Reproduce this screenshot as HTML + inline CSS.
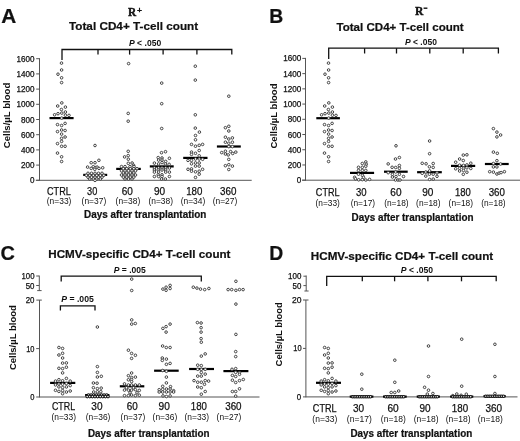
<!DOCTYPE html>
<html><head><meta charset="utf-8"><title>Figure</title>
<style>
html,body{margin:0;padding:0;background:#fff;}
body{width:520px;height:441px;overflow:hidden;font-family:"Liberation Sans",sans-serif;}
svg{display:block;will-change:transform;}
</style></head>
<body>
<svg width="520" height="441" viewBox="0 0 520 441">
<rect width="520" height="441" fill="#fff"/>
<text x="1.2" y="23.1" font-family="Liberation Sans" font-size="20" font-weight="bold" text-anchor="start" fill="#111" textLength="15" lengthAdjust="spacingAndGlyphs" stroke="#111" stroke-width="0.22">A</text>
<text x="269.2" y="22.7" font-family="Liberation Sans" font-size="20" font-weight="bold" text-anchor="start" fill="#111" textLength="14" lengthAdjust="spacingAndGlyphs" stroke="#111" stroke-width="0.22">B</text>
<text x="0.6" y="259.9" font-family="Liberation Sans" font-size="20" font-weight="bold" text-anchor="start" fill="#111" textLength="14.4" lengthAdjust="spacingAndGlyphs" stroke="#111" stroke-width="0.22">C</text>
<text x="269.2" y="259.7" font-family="Liberation Sans" font-size="20" font-weight="bold" text-anchor="start" fill="#111" textLength="14" lengthAdjust="spacingAndGlyphs" stroke="#111" stroke-width="0.22">D</text>
<text x="128.1" y="16.4" font-family="Liberation Serif" font-size="13.0" font-weight="bold" text-anchor="start" fill="#111" textLength="8.2" lengthAdjust="spacingAndGlyphs" stroke="#111" stroke-width="0.45">R</text>
<text x="136.9" y="13.2" font-family="Liberation Serif" font-size="8.4" font-weight="bold" text-anchor="start" fill="#111" textLength="5" lengthAdjust="spacingAndGlyphs" stroke="#111" stroke-width="0.5">+</text>
<text x="415.0" y="15.4" font-family="Liberation Serif" font-size="13.4" font-weight="bold" text-anchor="start" fill="#111" textLength="8.4" lengthAdjust="spacingAndGlyphs" stroke="#111" stroke-width="0.45">R</text>
<line x1="423.6" y1="8.2" x2="427.4" y2="8.2" stroke="#111" stroke-width="1.4" stroke-linecap="butt"/>
<text x="69.0" y="30.3" font-family="Liberation Sans" font-size="11.8" font-weight="bold" text-anchor="start" fill="#111" textLength="129.2" lengthAdjust="spacingAndGlyphs" stroke="#111" stroke-width="0.22">Total CD4+ T-cell count</text>
<text x="336.5" y="31.3" font-family="Liberation Sans" font-size="11.8" font-weight="bold" text-anchor="start" fill="#111" textLength="127.2" lengthAdjust="spacingAndGlyphs" stroke="#111" stroke-width="0.22">Total CD4+ T-cell count</text>
<text x="48.3" y="258.2" font-family="Liberation Sans" font-size="11.8" font-weight="bold" text-anchor="start" fill="#111" textLength="182.2" lengthAdjust="spacingAndGlyphs" stroke="#111" stroke-width="0.22">HCMV-specific CD4+ T-cell count</text>
<text x="310.8" y="260.4" font-family="Liberation Sans" font-size="11.8" font-weight="bold" text-anchor="start" fill="#111" textLength="182.4" lengthAdjust="spacingAndGlyphs" stroke="#111" stroke-width="0.22">HCMV-specific CD4+ T-cell count</text>
<text x="129.0" y="46.4" font-family="Liberation Sans" font-size="8.6" font-weight="bold" text-anchor="start" fill="#111" textLength="32.2" lengthAdjust="spacingAndGlyphs"><tspan font-style="italic">P</tspan> &lt; .050</text>
<text x="405.0" y="45.2" font-family="Liberation Sans" font-size="8.6" font-weight="bold" text-anchor="start" fill="#111" textLength="31.9" lengthAdjust="spacingAndGlyphs"><tspan font-style="italic">P</tspan> &lt; .050</text>
<text x="113.8" y="272.9" font-family="Liberation Sans" font-size="8.6" font-weight="bold" text-anchor="start" fill="#111" textLength="32" lengthAdjust="spacingAndGlyphs"><tspan font-style="italic">P</tspan> = .005</text>
<text x="61.3" y="301.5" font-family="Liberation Sans" font-size="8.6" font-weight="bold" text-anchor="start" fill="#111" textLength="32.5" lengthAdjust="spacingAndGlyphs"><tspan font-style="italic">P</tspan> = .005</text>
<text x="400.8" y="272.5" font-family="Liberation Sans" font-size="8.6" font-weight="bold" text-anchor="start" fill="#111" textLength="32.3" lengthAdjust="spacingAndGlyphs"><tspan font-style="italic">P</tspan> &lt; .050</text>
<polyline points="62,60 62,49.5 231.8,49.5 231.8,54.6" fill="none" stroke="#111" stroke-width="1.3" stroke-linejoin="miter"/>
<line x1="98" y1="49.5" x2="98" y2="54.6" stroke="#111" stroke-width="1.3" stroke-linecap="butt"/>
<line x1="129.6" y1="49.5" x2="129.6" y2="54.6" stroke="#111" stroke-width="1.3" stroke-linecap="butt"/>
<line x1="163.1" y1="49.5" x2="163.1" y2="54.6" stroke="#111" stroke-width="1.3" stroke-linecap="butt"/>
<line x1="196.9" y1="49.5" x2="196.9" y2="54.6" stroke="#111" stroke-width="1.3" stroke-linecap="butt"/>
<polyline points="328.7,59 328.7,48.2 498.4,48.2 498.4,53.5" fill="none" stroke="#111" stroke-width="1.3" stroke-linejoin="miter"/>
<line x1="364.6" y1="48.2" x2="364.6" y2="53.5" stroke="#111" stroke-width="1.3" stroke-linecap="butt"/>
<line x1="396.5" y1="48.2" x2="396.5" y2="53.5" stroke="#111" stroke-width="1.3" stroke-linecap="butt"/>
<line x1="429.8" y1="48.2" x2="429.8" y2="53.5" stroke="#111" stroke-width="1.3" stroke-linecap="butt"/>
<line x1="463.2" y1="48.2" x2="463.2" y2="53.5" stroke="#111" stroke-width="1.3" stroke-linecap="butt"/>
<polyline points="61.2,281.4 61.2,276.2 201.3,276.2 201.3,281.4" fill="none" stroke="#111" stroke-width="1.3" stroke-linejoin="miter"/>
<polyline points="60.4,310.6 60.4,305.8 95,305.8 95,310.6" fill="none" stroke="#111" stroke-width="1.3" stroke-linejoin="miter"/>
<polyline points="326.7,286 326.7,276.3 496.2,276.3 496.2,281.3" fill="none" stroke="#111" stroke-width="1.3" stroke-linejoin="miter"/>
<line x1="362.3" y1="276.3" x2="362.3" y2="281.3" stroke="#111" stroke-width="1.3" stroke-linecap="butt"/>
<line x1="394.6" y1="276.3" x2="394.6" y2="281.3" stroke="#111" stroke-width="1.3" stroke-linecap="butt"/>
<line x1="427.9" y1="276.3" x2="427.9" y2="281.3" stroke="#111" stroke-width="1.3" stroke-linecap="butt"/>
<line x1="461.5" y1="276.3" x2="461.5" y2="281.3" stroke="#111" stroke-width="1.3" stroke-linecap="butt"/>
<text transform="translate(9.6,115.5) rotate(-90)" x="0" y="0" font-family="Liberation Sans" font-size="9.6" font-weight="bold" text-anchor="middle" fill="#111" textLength="65.5" lengthAdjust="spacingAndGlyphs">Cells/µL blood</text>
<text transform="translate(276.6,116.0) rotate(-90)" x="0" y="0" font-family="Liberation Sans" font-size="9.6" font-weight="bold" text-anchor="middle" fill="#111" textLength="65.0" lengthAdjust="spacingAndGlyphs">Cells/µL blood</text>
<text transform="translate(16.1,337.6) rotate(-90)" x="0" y="0" font-family="Liberation Sans" font-size="9.6" font-weight="bold" text-anchor="middle" fill="#111" textLength="65.0" lengthAdjust="spacingAndGlyphs">Cells/µL blood</text>
<text transform="translate(282.4,334.3) rotate(-90)" x="0" y="0" font-family="Liberation Sans" font-size="9.6" font-weight="bold" text-anchor="middle" fill="#111" textLength="64.2" lengthAdjust="spacingAndGlyphs">Cells/µL blood</text>
<line x1="39.5" y1="58.2" x2="39.5" y2="180.8" stroke="#555" stroke-width="1.0" stroke-linecap="butt"/>
<line x1="35.8" y1="180.3" x2="251.7" y2="180.3" stroke="#555" stroke-width="1.0" stroke-linecap="butt"/>
<line x1="36.2" y1="58.7" x2="39.5" y2="58.7" stroke="#555" stroke-width="1.0" stroke-linecap="butt"/>
<text x="34.4" y="61.7" font-family="Liberation Sans" font-size="8.4" text-anchor="end" fill="#111" textLength="18.0" lengthAdjust="spacingAndGlyphs" stroke="#111" stroke-width="0.25">1600</text>
<line x1="36.2" y1="73.9" x2="39.5" y2="73.9" stroke="#555" stroke-width="1.0" stroke-linecap="butt"/>
<text x="34.4" y="76.9" font-family="Liberation Sans" font-size="8.4" text-anchor="end" fill="#111" textLength="18.0" lengthAdjust="spacingAndGlyphs" stroke="#111" stroke-width="0.25">1400</text>
<line x1="36.2" y1="89.10000000000001" x2="39.5" y2="89.10000000000001" stroke="#555" stroke-width="1.0" stroke-linecap="butt"/>
<text x="34.4" y="92.10000000000001" font-family="Liberation Sans" font-size="8.4" text-anchor="end" fill="#111" textLength="18.0" lengthAdjust="spacingAndGlyphs" stroke="#111" stroke-width="0.25">1200</text>
<line x1="36.2" y1="104.30000000000001" x2="39.5" y2="104.30000000000001" stroke="#555" stroke-width="1.0" stroke-linecap="butt"/>
<text x="34.4" y="107.30000000000001" font-family="Liberation Sans" font-size="8.4" text-anchor="end" fill="#111" textLength="18.0" lengthAdjust="spacingAndGlyphs" stroke="#111" stroke-width="0.25">1000</text>
<line x1="36.2" y1="119.5" x2="39.5" y2="119.5" stroke="#555" stroke-width="1.0" stroke-linecap="butt"/>
<text x="34.4" y="122.5" font-family="Liberation Sans" font-size="8.4" text-anchor="end" fill="#111" textLength="13.5" lengthAdjust="spacingAndGlyphs" stroke="#111" stroke-width="0.25">800</text>
<line x1="36.2" y1="134.7" x2="39.5" y2="134.7" stroke="#555" stroke-width="1.0" stroke-linecap="butt"/>
<text x="34.4" y="137.7" font-family="Liberation Sans" font-size="8.4" text-anchor="end" fill="#111" textLength="13.5" lengthAdjust="spacingAndGlyphs" stroke="#111" stroke-width="0.25">600</text>
<line x1="36.2" y1="149.9" x2="39.5" y2="149.9" stroke="#555" stroke-width="1.0" stroke-linecap="butt"/>
<text x="34.4" y="152.9" font-family="Liberation Sans" font-size="8.4" text-anchor="end" fill="#111" textLength="13.5" lengthAdjust="spacingAndGlyphs" stroke="#111" stroke-width="0.25">400</text>
<line x1="36.2" y1="165.10000000000002" x2="39.5" y2="165.10000000000002" stroke="#555" stroke-width="1.0" stroke-linecap="butt"/>
<text x="34.4" y="168.10000000000002" font-family="Liberation Sans" font-size="8.4" text-anchor="end" fill="#111" textLength="13.5" lengthAdjust="spacingAndGlyphs" stroke="#111" stroke-width="0.25">200</text>
<line x1="36.2" y1="180.3" x2="39.5" y2="180.3" stroke="#555" stroke-width="1.0" stroke-linecap="butt"/>
<text x="34.4" y="183.3" font-family="Liberation Sans" font-size="8.4" text-anchor="end" fill="#111" textLength="4.5" lengthAdjust="spacingAndGlyphs" stroke="#111" stroke-width="0.25">0</text>
<line x1="305.5" y1="57.9" x2="305.5" y2="180.7" stroke="#555" stroke-width="1.0" stroke-linecap="butt"/>
<line x1="302" y1="180.2" x2="520" y2="180.2" stroke="#555" stroke-width="1.0" stroke-linecap="butt"/>
<line x1="302.3" y1="58.4" x2="305.5" y2="58.4" stroke="#555" stroke-width="1.0" stroke-linecap="butt"/>
<text x="301.2" y="61.4" font-family="Liberation Sans" font-size="8.4" text-anchor="end" fill="#111" textLength="18.0" lengthAdjust="spacingAndGlyphs" stroke="#111" stroke-width="0.25">1600</text>
<line x1="302.3" y1="73.625" x2="305.5" y2="73.625" stroke="#555" stroke-width="1.0" stroke-linecap="butt"/>
<text x="301.2" y="76.625" font-family="Liberation Sans" font-size="8.4" text-anchor="end" fill="#111" textLength="18.0" lengthAdjust="spacingAndGlyphs" stroke="#111" stroke-width="0.25">1400</text>
<line x1="302.3" y1="88.85" x2="305.5" y2="88.85" stroke="#555" stroke-width="1.0" stroke-linecap="butt"/>
<text x="301.2" y="91.85" font-family="Liberation Sans" font-size="8.4" text-anchor="end" fill="#111" textLength="18.0" lengthAdjust="spacingAndGlyphs" stroke="#111" stroke-width="0.25">1200</text>
<line x1="302.3" y1="104.07499999999999" x2="305.5" y2="104.07499999999999" stroke="#555" stroke-width="1.0" stroke-linecap="butt"/>
<text x="301.2" y="107.07499999999999" font-family="Liberation Sans" font-size="8.4" text-anchor="end" fill="#111" textLength="18.0" lengthAdjust="spacingAndGlyphs" stroke="#111" stroke-width="0.25">1000</text>
<line x1="302.3" y1="119.29999999999998" x2="305.5" y2="119.29999999999998" stroke="#555" stroke-width="1.0" stroke-linecap="butt"/>
<text x="301.2" y="122.29999999999998" font-family="Liberation Sans" font-size="8.4" text-anchor="end" fill="#111" textLength="13.5" lengthAdjust="spacingAndGlyphs" stroke="#111" stroke-width="0.25">800</text>
<line x1="302.3" y1="134.52499999999998" x2="305.5" y2="134.52499999999998" stroke="#555" stroke-width="1.0" stroke-linecap="butt"/>
<text x="301.2" y="137.52499999999998" font-family="Liberation Sans" font-size="8.4" text-anchor="end" fill="#111" textLength="13.5" lengthAdjust="spacingAndGlyphs" stroke="#111" stroke-width="0.25">600</text>
<line x1="302.3" y1="149.75" x2="305.5" y2="149.75" stroke="#555" stroke-width="1.0" stroke-linecap="butt"/>
<text x="301.2" y="152.75" font-family="Liberation Sans" font-size="8.4" text-anchor="end" fill="#111" textLength="13.5" lengthAdjust="spacingAndGlyphs" stroke="#111" stroke-width="0.25">400</text>
<line x1="302.3" y1="164.975" x2="305.5" y2="164.975" stroke="#555" stroke-width="1.0" stroke-linecap="butt"/>
<text x="301.2" y="167.975" font-family="Liberation Sans" font-size="8.4" text-anchor="end" fill="#111" textLength="13.5" lengthAdjust="spacingAndGlyphs" stroke="#111" stroke-width="0.25">200</text>
<line x1="302.3" y1="180.2" x2="305.5" y2="180.2" stroke="#555" stroke-width="1.0" stroke-linecap="butt"/>
<text x="301.2" y="183.2" font-family="Liberation Sans" font-size="8.4" text-anchor="end" fill="#111" textLength="4.5" lengthAdjust="spacingAndGlyphs" stroke="#111" stroke-width="0.25">0</text>
<line x1="39.3" y1="275.5" x2="39.3" y2="290.6" stroke="#555" stroke-width="1.0" stroke-linecap="butt"/>
<line x1="37.2" y1="290.6" x2="41.6" y2="290.6" stroke="#555" stroke-width="1.0" stroke-linecap="butt"/>
<line x1="39.5" y1="300.1" x2="39.5" y2="397.4" stroke="#555" stroke-width="1.0" stroke-linecap="butt"/>
<line x1="36.3" y1="300.1" x2="41.8" y2="300.1" stroke="#555" stroke-width="1.0" stroke-linecap="butt"/>
<line x1="36.2" y1="397.0" x2="259.5" y2="397.0" stroke="#555" stroke-width="1.0" stroke-linecap="butt"/>
<line x1="36.2" y1="348.6" x2="39.2" y2="348.6" stroke="#555" stroke-width="1.0" stroke-linecap="butt"/>
<line x1="36.2" y1="276.0" x2="39.0" y2="276.0" stroke="#555" stroke-width="1.0" stroke-linecap="butt"/>
<line x1="36.2" y1="285.5" x2="39.0" y2="285.5" stroke="#555" stroke-width="1.0" stroke-linecap="butt"/>
<text x="34.5" y="279.0" font-family="Liberation Sans" font-size="8.4" text-anchor="end" fill="#111" textLength="13.0" lengthAdjust="spacingAndGlyphs" stroke="#111" stroke-width="0.25">100</text>
<text x="34.5" y="288.5" font-family="Liberation Sans" font-size="8.4" text-anchor="end" fill="#111" textLength="8.8" lengthAdjust="spacingAndGlyphs" stroke="#111" stroke-width="0.25">50</text>
<text x="34.5" y="303.1" font-family="Liberation Sans" font-size="8.4" text-anchor="end" fill="#111" textLength="8.8" lengthAdjust="spacingAndGlyphs" stroke="#111" stroke-width="0.25">20</text>
<text x="34.5" y="351.6" font-family="Liberation Sans" font-size="8.4" text-anchor="end" fill="#111" textLength="8.3" lengthAdjust="spacingAndGlyphs" stroke="#111" stroke-width="0.25">10</text>
<text x="34.4" y="400.0" font-family="Liberation Sans" font-size="8.4" text-anchor="end" fill="#111" textLength="4.2" lengthAdjust="spacingAndGlyphs" stroke="#111" stroke-width="0.25">0</text>
<line x1="306.2" y1="275.5" x2="306.2" y2="291.0" stroke="#555" stroke-width="1.0" stroke-linecap="butt"/>
<line x1="304.4" y1="291.0" x2="308.6" y2="291.0" stroke="#555" stroke-width="1.0" stroke-linecap="butt"/>
<line x1="305.9" y1="300.0" x2="305.9" y2="397.3" stroke="#555" stroke-width="1.0" stroke-linecap="butt"/>
<line x1="303.0" y1="300.0" x2="308.5" y2="300.0" stroke="#555" stroke-width="1.0" stroke-linecap="butt"/>
<line x1="303.0" y1="396.9" x2="517.5" y2="396.9" stroke="#555" stroke-width="1.0" stroke-linecap="butt"/>
<line x1="303.0" y1="348.4" x2="305.9" y2="348.4" stroke="#555" stroke-width="1.0" stroke-linecap="butt"/>
<line x1="303.4" y1="276.2" x2="306.2" y2="276.2" stroke="#555" stroke-width="1.0" stroke-linecap="butt"/>
<line x1="303.4" y1="285.6" x2="306.2" y2="285.6" stroke="#555" stroke-width="1.0" stroke-linecap="butt"/>
<text x="301.4" y="279.2" font-family="Liberation Sans" font-size="8.4" text-anchor="end" fill="#111" textLength="13.3" lengthAdjust="spacingAndGlyphs" stroke="#111" stroke-width="0.25">100</text>
<text x="301.4" y="288.6" font-family="Liberation Sans" font-size="8.4" text-anchor="end" fill="#111" textLength="8.8" lengthAdjust="spacingAndGlyphs" stroke="#111" stroke-width="0.25">50</text>
<text x="301.6" y="303.0" font-family="Liberation Sans" font-size="8.4" text-anchor="end" fill="#111" textLength="9.5" lengthAdjust="spacingAndGlyphs" stroke="#111" stroke-width="0.25">20</text>
<text x="301.6" y="351.4" font-family="Liberation Sans" font-size="8.4" text-anchor="end" fill="#111" textLength="8.3" lengthAdjust="spacingAndGlyphs" stroke="#111" stroke-width="0.25">10</text>
<text x="301.2" y="399.9" font-family="Liberation Sans" font-size="8.4" text-anchor="end" fill="#111" textLength="4.4" lengthAdjust="spacingAndGlyphs" stroke="#111" stroke-width="0.25">0</text>
<text x="58.9" y="194.7" font-family="Liberation Sans" font-size="10.8" text-anchor="middle" fill="#111" textLength="23.8" lengthAdjust="spacingAndGlyphs" stroke="#111" stroke-width="0.25">CTRL</text>
<text x="92.2" y="194.7" font-family="Liberation Sans" font-size="10.8" text-anchor="middle" fill="#111" textLength="10.2" lengthAdjust="spacingAndGlyphs" stroke="#111" stroke-width="0.25">30</text>
<text x="127.3" y="194.7" font-family="Liberation Sans" font-size="10.8" text-anchor="middle" fill="#111" textLength="11.2" lengthAdjust="spacingAndGlyphs" stroke="#111" stroke-width="0.25">60</text>
<text x="159.5" y="194.7" font-family="Liberation Sans" font-size="10.8" text-anchor="middle" fill="#111" textLength="11.2" lengthAdjust="spacingAndGlyphs" stroke="#111" stroke-width="0.25">90</text>
<text x="194.3" y="194.7" font-family="Liberation Sans" font-size="10.8" text-anchor="middle" fill="#111" textLength="16.2" lengthAdjust="spacingAndGlyphs" stroke="#111" stroke-width="0.25">180</text>
<text x="228.2" y="194.7" font-family="Liberation Sans" font-size="10.8" text-anchor="middle" fill="#111" textLength="16.4" lengthAdjust="spacingAndGlyphs" stroke="#111" stroke-width="0.25">360</text>
<text x="59.1" y="204.3" font-family="Liberation Sans" font-size="8.4" text-anchor="middle" fill="#111" textLength="24.6" lengthAdjust="spacingAndGlyphs">(n=33)</text>
<text x="93.9" y="204.3" font-family="Liberation Sans" font-size="8.4" text-anchor="middle" fill="#111" textLength="24.6" lengthAdjust="spacingAndGlyphs">(n=37)</text>
<text x="127.9" y="204.3" font-family="Liberation Sans" font-size="8.4" text-anchor="middle" fill="#111" textLength="24.6" lengthAdjust="spacingAndGlyphs">(n=38)</text>
<text x="160.7" y="204.3" font-family="Liberation Sans" font-size="8.4" text-anchor="middle" fill="#111" textLength="24.6" lengthAdjust="spacingAndGlyphs">(n=38)</text>
<text x="193" y="204.3" font-family="Liberation Sans" font-size="8.4" text-anchor="middle" fill="#111" textLength="24.6" lengthAdjust="spacingAndGlyphs">(n=34)</text>
<text x="225" y="204.3" font-family="Liberation Sans" font-size="8.4" text-anchor="middle" fill="#111" textLength="24.6" lengthAdjust="spacingAndGlyphs">(n=27)</text>
<text x="84.1" y="217.9" font-family="Liberation Sans" font-size="10.4" font-weight="bold" text-anchor="start" fill="#111" textLength="122.2" lengthAdjust="spacingAndGlyphs" stroke="#111" stroke-width="0.22">Days after transplantation</text>
<text x="327.7" y="196.2" font-family="Liberation Sans" font-size="10.8" text-anchor="middle" fill="#111" textLength="23.7" lengthAdjust="spacingAndGlyphs" stroke="#111" stroke-width="0.25">CTRL</text>
<text x="361.3" y="196.2" font-family="Liberation Sans" font-size="10.8" text-anchor="middle" fill="#111" textLength="10.6" lengthAdjust="spacingAndGlyphs" stroke="#111" stroke-width="0.25">30</text>
<text x="395.9" y="196.2" font-family="Liberation Sans" font-size="10.8" text-anchor="middle" fill="#111" textLength="11.2" lengthAdjust="spacingAndGlyphs" stroke="#111" stroke-width="0.25">60</text>
<text x="427.8" y="196.2" font-family="Liberation Sans" font-size="10.8" text-anchor="middle" fill="#111" textLength="11.2" lengthAdjust="spacingAndGlyphs" stroke="#111" stroke-width="0.25">90</text>
<text x="462.9" y="196.2" font-family="Liberation Sans" font-size="10.8" text-anchor="middle" fill="#111" textLength="15.8" lengthAdjust="spacingAndGlyphs" stroke="#111" stroke-width="0.25">180</text>
<text x="496.8" y="196.2" font-family="Liberation Sans" font-size="10.8" text-anchor="middle" fill="#111" textLength="16.2" lengthAdjust="spacingAndGlyphs" stroke="#111" stroke-width="0.25">360</text>
<text x="327.7" y="205.7" font-family="Liberation Sans" font-size="8.4" text-anchor="middle" fill="#111" textLength="24.4" lengthAdjust="spacingAndGlyphs">(n=33)</text>
<text x="362.9" y="205.7" font-family="Liberation Sans" font-size="8.4" text-anchor="middle" fill="#111" textLength="24.4" lengthAdjust="spacingAndGlyphs">(n=17)</text>
<text x="396.4" y="205.7" font-family="Liberation Sans" font-size="8.4" text-anchor="middle" fill="#111" textLength="24.4" lengthAdjust="spacingAndGlyphs">(n=18)</text>
<text x="428.3" y="205.7" font-family="Liberation Sans" font-size="8.4" text-anchor="middle" fill="#111" textLength="24.4" lengthAdjust="spacingAndGlyphs">(n=18)</text>
<text x="460.8" y="205.7" font-family="Liberation Sans" font-size="8.4" text-anchor="middle" fill="#111" textLength="24.4" lengthAdjust="spacingAndGlyphs">(n=18)</text>
<text x="493.4" y="205.7" font-family="Liberation Sans" font-size="8.4" text-anchor="middle" fill="#111" textLength="24.4" lengthAdjust="spacingAndGlyphs">(n=18)</text>
<text x="351.5" y="221.1" font-family="Liberation Sans" font-size="10.4" font-weight="bold" text-anchor="start" fill="#111" textLength="122" lengthAdjust="spacingAndGlyphs" stroke="#111" stroke-width="0.22">Days after transplantation</text>
<text x="63.5" y="409.9" font-family="Liberation Sans" font-size="10.8" text-anchor="middle" fill="#111" textLength="23.2" lengthAdjust="spacingAndGlyphs" stroke="#111" stroke-width="0.25">CTRL</text>
<text x="96.9" y="409.9" font-family="Liberation Sans" font-size="10.8" text-anchor="middle" fill="#111" textLength="11.2" lengthAdjust="spacingAndGlyphs" stroke="#111" stroke-width="0.25">30</text>
<text x="132.2" y="409.9" font-family="Liberation Sans" font-size="10.8" text-anchor="middle" fill="#111" textLength="11" lengthAdjust="spacingAndGlyphs" stroke="#111" stroke-width="0.25">60</text>
<text x="164.2" y="409.9" font-family="Liberation Sans" font-size="10.8" text-anchor="middle" fill="#111" textLength="11.3" lengthAdjust="spacingAndGlyphs" stroke="#111" stroke-width="0.25">90</text>
<text x="198.9" y="409.9" font-family="Liberation Sans" font-size="10.8" text-anchor="middle" fill="#111" textLength="16.1" lengthAdjust="spacingAndGlyphs" stroke="#111" stroke-width="0.25">180</text>
<text x="233.4" y="409.9" font-family="Liberation Sans" font-size="10.8" text-anchor="middle" fill="#111" textLength="16.4" lengthAdjust="spacingAndGlyphs" stroke="#111" stroke-width="0.25">360</text>
<text x="63.75" y="419.9" font-family="Liberation Sans" font-size="8.4" text-anchor="middle" fill="#111" textLength="24.6" lengthAdjust="spacingAndGlyphs">(n=33)</text>
<text x="98.1" y="419.9" font-family="Liberation Sans" font-size="8.4" text-anchor="middle" fill="#111" textLength="24.6" lengthAdjust="spacingAndGlyphs">(n=36)</text>
<text x="132.9" y="419.9" font-family="Liberation Sans" font-size="8.4" text-anchor="middle" fill="#111" textLength="24.6" lengthAdjust="spacingAndGlyphs">(n=37)</text>
<text x="164.9" y="419.9" font-family="Liberation Sans" font-size="8.4" text-anchor="middle" fill="#111" textLength="24.6" lengthAdjust="spacingAndGlyphs">(n=36)</text>
<text x="196.8" y="419.9" font-family="Liberation Sans" font-size="8.4" text-anchor="middle" fill="#111" textLength="24.6" lengthAdjust="spacingAndGlyphs">(n=33)</text>
<text x="228.9" y="419.9" font-family="Liberation Sans" font-size="8.4" text-anchor="middle" fill="#111" textLength="24.6" lengthAdjust="spacingAndGlyphs">(n=27)</text>
<text x="88" y="437.1" font-family="Liberation Sans" font-size="10.4" font-weight="bold" text-anchor="start" fill="#111" textLength="121.6" lengthAdjust="spacingAndGlyphs" stroke="#111" stroke-width="0.22">Days after transplantation</text>
<text x="324.7" y="412.4" font-family="Liberation Sans" font-size="10.8" text-anchor="middle" fill="#111" textLength="23.7" lengthAdjust="spacingAndGlyphs" stroke="#111" stroke-width="0.25">CTRL</text>
<text x="358.5" y="412.4" font-family="Liberation Sans" font-size="10.8" text-anchor="middle" fill="#111" textLength="11.2" lengthAdjust="spacingAndGlyphs" stroke="#111" stroke-width="0.25">30</text>
<text x="393.1" y="412.4" font-family="Liberation Sans" font-size="10.8" text-anchor="middle" fill="#111" textLength="11.3" lengthAdjust="spacingAndGlyphs" stroke="#111" stroke-width="0.25">60</text>
<text x="425.1" y="412.4" font-family="Liberation Sans" font-size="10.8" text-anchor="middle" fill="#111" textLength="11.1" lengthAdjust="spacingAndGlyphs" stroke="#111" stroke-width="0.25">90</text>
<text x="460" y="412.4" font-family="Liberation Sans" font-size="10.8" text-anchor="middle" fill="#111" textLength="16.3" lengthAdjust="spacingAndGlyphs" stroke="#111" stroke-width="0.25">180</text>
<text x="493.7" y="412.4" font-family="Liberation Sans" font-size="10.8" text-anchor="middle" fill="#111" textLength="16.6" lengthAdjust="spacingAndGlyphs" stroke="#111" stroke-width="0.25">360</text>
<text x="324.8" y="422.3" font-family="Liberation Sans" font-size="8.4" text-anchor="middle" fill="#111" textLength="24.9" lengthAdjust="spacingAndGlyphs">(n=33)</text>
<text x="359.3" y="422.3" font-family="Liberation Sans" font-size="8.4" text-anchor="middle" fill="#111" textLength="24.9" lengthAdjust="spacingAndGlyphs">(n=17)</text>
<text x="393.3" y="422.3" font-family="Liberation Sans" font-size="8.4" text-anchor="middle" fill="#111" textLength="24.9" lengthAdjust="spacingAndGlyphs">(n=18)</text>
<text x="426.2" y="422.3" font-family="Liberation Sans" font-size="8.4" text-anchor="middle" fill="#111" textLength="24.9" lengthAdjust="spacingAndGlyphs">(n=18)</text>
<text x="458.2" y="422.3" font-family="Liberation Sans" font-size="8.4" text-anchor="middle" fill="#111" textLength="24.9" lengthAdjust="spacingAndGlyphs">(n=18)</text>
<text x="490.3" y="422.3" font-family="Liberation Sans" font-size="8.4" text-anchor="middle" fill="#111" textLength="24.9" lengthAdjust="spacingAndGlyphs">(n=18)</text>
<text x="350.4" y="437.4" font-family="Liberation Sans" font-size="10.4" font-weight="bold" text-anchor="start" fill="#111" textLength="121.8" lengthAdjust="spacingAndGlyphs" stroke="#111" stroke-width="0.22">Days after transplantation</text>
<line x1="49.5" y1="118.1" x2="73.6" y2="118.1" stroke="#000" stroke-width="2.2"/>
<line x1="83.2" y1="174.9" x2="107.2" y2="174.9" stroke="#000" stroke-width="2.2"/>
<line x1="116.2" y1="168.9" x2="140.8" y2="168.9" stroke="#000" stroke-width="2.2"/>
<line x1="149.8" y1="166.4" x2="173.7" y2="166.4" stroke="#000" stroke-width="2.2"/>
<line x1="183.2" y1="157.9" x2="207.5" y2="157.9" stroke="#000" stroke-width="2.2"/>
<line x1="216.9" y1="146.5" x2="240.8" y2="146.5" stroke="#000" stroke-width="2.2"/>
<line x1="316.3" y1="118.2" x2="339.9" y2="118.2" stroke="#000" stroke-width="2.2"/>
<line x1="350" y1="172.9" x2="374.1" y2="172.9" stroke="#000" stroke-width="2.2"/>
<line x1="384" y1="171.7" x2="407.7" y2="171.7" stroke="#000" stroke-width="2.2"/>
<line x1="417.1" y1="172.2" x2="441.8" y2="172.2" stroke="#000" stroke-width="2.2"/>
<line x1="451" y1="165.9" x2="475.2" y2="165.9" stroke="#000" stroke-width="2.2"/>
<line x1="484.9" y1="164.0" x2="508.7" y2="164.0" stroke="#000" stroke-width="2.2"/>
<line x1="50.1" y1="382.9" x2="75.3" y2="382.9" stroke="#000" stroke-width="2.2"/>
<line x1="85.1" y1="395.1" x2="109.4" y2="395.1" stroke="#000" stroke-width="2.2"/>
<line x1="119.8" y1="386.3" x2="144.3" y2="386.3" stroke="#000" stroke-width="2.2"/>
<line x1="154.1" y1="370.7" x2="178.7" y2="370.7" stroke="#000" stroke-width="2.2"/>
<line x1="189.1" y1="369.0" x2="214" y2="369.0" stroke="#000" stroke-width="2.2"/>
<line x1="223.4" y1="371.1" x2="248.4" y2="371.1" stroke="#000" stroke-width="2.2"/>
<line x1="316.0" y1="382.8" x2="341.0" y2="382.8" stroke="#000" stroke-width="2.2"/>
<line x1="349.7" y1="396.6" x2="373.4" y2="396.6" stroke="#000" stroke-width="2.2"/>
<line x1="383" y1="396.6" x2="406.7" y2="396.6" stroke="#000" stroke-width="2.2"/>
<line x1="416.7" y1="396.6" x2="439.9" y2="396.6" stroke="#000" stroke-width="2.2"/>
<line x1="450.1" y1="396.6" x2="473.3" y2="396.6" stroke="#000" stroke-width="2.2"/>
<line x1="483.5" y1="396.2" x2="505.7" y2="396.2" stroke="#000" stroke-width="2.2"/>
<g fill="#fff" stroke="#3a3a3a" stroke-width="0.95">
<circle cx="61.50" cy="63.10" r="1.3"/>
<circle cx="61.60" cy="70.00" r="1.3"/>
<circle cx="58.00" cy="74.20" r="1.3"/>
<circle cx="61.60" cy="77.80" r="1.3"/>
<circle cx="61.60" cy="82.60" r="1.3"/>
<circle cx="61.80" cy="102.90" r="1.3"/>
<circle cx="57.70" cy="106.00" r="1.3"/>
<circle cx="65.40" cy="107.10" r="1.3"/>
<circle cx="61.40" cy="109.50" r="1.3"/>
<circle cx="65.40" cy="112.00" r="1.3"/>
<circle cx="61.80" cy="113.10" r="1.3"/>
<circle cx="58.00" cy="113.70" r="1.3"/>
<circle cx="54.60" cy="114.80" r="1.3"/>
<circle cx="65.40" cy="115.20" r="1.3"/>
<circle cx="69.00" cy="115.40" r="1.3"/>
<circle cx="61.70" cy="118.10" r="1.3"/>
<circle cx="57.50" cy="124.60" r="1.3"/>
<circle cx="61.60" cy="125.50" r="1.3"/>
<circle cx="65.10" cy="123.40" r="1.3"/>
<circle cx="57.50" cy="131.60" r="1.3"/>
<circle cx="61.60" cy="130.00" r="1.3"/>
<circle cx="65.10" cy="130.50" r="1.3"/>
<circle cx="61.60" cy="134.10" r="1.3"/>
<circle cx="65.10" cy="137.00" r="1.3"/>
<circle cx="61.60" cy="138.30" r="1.3"/>
<circle cx="61.60" cy="141.40" r="1.3"/>
<circle cx="57.50" cy="143.60" r="1.3"/>
<circle cx="61.60" cy="146.30" r="1.3"/>
<circle cx="65.10" cy="146.30" r="1.3"/>
<circle cx="57.50" cy="153.10" r="1.3"/>
<circle cx="61.60" cy="156.80" r="1.3"/>
<circle cx="61.60" cy="161.50" r="1.3"/>
<circle cx="95.00" cy="145.50" r="1.3"/>
<circle cx="91.20" cy="162.70" r="1.3"/>
<circle cx="95.00" cy="162.70" r="1.3"/>
<circle cx="98.90" cy="160.30" r="1.3"/>
<circle cx="87.60" cy="167.10" r="1.3"/>
<circle cx="91.20" cy="168.40" r="1.3"/>
<circle cx="93.30" cy="166.70" r="1.3"/>
<circle cx="95.20" cy="167.60" r="1.3"/>
<circle cx="97.10" cy="167.10" r="1.3"/>
<circle cx="99.00" cy="168.40" r="1.3"/>
<circle cx="102.70" cy="167.80" r="1.3"/>
<circle cx="94.80" cy="169.30" r="1.3"/>
<circle cx="88.00" cy="173.30" r="1.3"/>
<circle cx="91.50" cy="173.30" r="1.3"/>
<circle cx="95.00" cy="173.30" r="1.3"/>
<circle cx="98.50" cy="173.30" r="1.3"/>
<circle cx="102.00" cy="173.30" r="1.3"/>
<circle cx="86.30" cy="175.30" r="1.3"/>
<circle cx="89.80" cy="175.30" r="1.3"/>
<circle cx="93.30" cy="175.30" r="1.3"/>
<circle cx="96.80" cy="175.30" r="1.3"/>
<circle cx="100.30" cy="175.30" r="1.3"/>
<circle cx="103.80" cy="175.30" r="1.3"/>
<circle cx="88.00" cy="177.20" r="1.3"/>
<circle cx="91.50" cy="177.20" r="1.3"/>
<circle cx="95.00" cy="177.20" r="1.3"/>
<circle cx="98.50" cy="177.20" r="1.3"/>
<circle cx="102.00" cy="177.20" r="1.3"/>
<circle cx="89.80" cy="179.00" r="1.3"/>
<circle cx="93.30" cy="179.00" r="1.3"/>
<circle cx="96.80" cy="179.00" r="1.3"/>
<circle cx="100.30" cy="179.00" r="1.3"/>
<circle cx="95.00" cy="180.40" r="1.3"/>
<circle cx="128.60" cy="63.60" r="1.3"/>
<circle cx="128.20" cy="113.40" r="1.3"/>
<circle cx="128.20" cy="121.20" r="1.3"/>
<circle cx="128.20" cy="151.30" r="1.3"/>
<circle cx="124.60" cy="156.90" r="1.3"/>
<circle cx="128.20" cy="155.60" r="1.3"/>
<circle cx="128.30" cy="159.20" r="1.3"/>
<circle cx="128.30" cy="163.30" r="1.3"/>
<circle cx="132.10" cy="163.00" r="1.3"/>
<circle cx="133.60" cy="165.30" r="1.3"/>
<circle cx="121.50" cy="166.60" r="1.3"/>
<circle cx="125.00" cy="166.60" r="1.3"/>
<circle cx="130.00" cy="166.60" r="1.3"/>
<circle cx="134.00" cy="166.60" r="1.3"/>
<circle cx="123.30" cy="168.70" r="1.3"/>
<circle cx="126.80" cy="168.70" r="1.3"/>
<circle cx="130.30" cy="168.70" r="1.3"/>
<circle cx="133.80" cy="168.70" r="1.3"/>
<circle cx="137.00" cy="168.70" r="1.3"/>
<circle cx="121.50" cy="170.80" r="1.3"/>
<circle cx="125.00" cy="170.80" r="1.3"/>
<circle cx="128.50" cy="170.80" r="1.3"/>
<circle cx="132.00" cy="170.80" r="1.3"/>
<circle cx="135.50" cy="170.80" r="1.3"/>
<circle cx="123.30" cy="172.90" r="1.3"/>
<circle cx="126.80" cy="172.90" r="1.3"/>
<circle cx="130.30" cy="172.90" r="1.3"/>
<circle cx="133.80" cy="172.90" r="1.3"/>
<circle cx="121.50" cy="175.00" r="1.3"/>
<circle cx="125.00" cy="175.00" r="1.3"/>
<circle cx="128.50" cy="175.00" r="1.3"/>
<circle cx="132.00" cy="175.00" r="1.3"/>
<circle cx="135.50" cy="175.00" r="1.3"/>
<circle cx="123.30" cy="177.10" r="1.3"/>
<circle cx="126.80" cy="177.10" r="1.3"/>
<circle cx="130.30" cy="177.10" r="1.3"/>
<circle cx="133.80" cy="177.10" r="1.3"/>
<circle cx="125.00" cy="179.00" r="1.3"/>
<circle cx="128.50" cy="179.00" r="1.3"/>
<circle cx="132.00" cy="179.00" r="1.3"/>
<circle cx="161.70" cy="83.10" r="1.3"/>
<circle cx="161.70" cy="103.70" r="1.3"/>
<circle cx="161.70" cy="128.50" r="1.3"/>
<circle cx="161.50" cy="152.70" r="1.3"/>
<circle cx="165.50" cy="151.70" r="1.3"/>
<circle cx="158.20" cy="157.60" r="1.3"/>
<circle cx="162.00" cy="158.00" r="1.3"/>
<circle cx="169.40" cy="158.30" r="1.3"/>
<circle cx="158.60" cy="160.10" r="1.3"/>
<circle cx="162.00" cy="160.10" r="1.3"/>
<circle cx="162.00" cy="162.60" r="1.3"/>
<circle cx="165.70" cy="161.40" r="1.3"/>
<circle cx="154.40" cy="163.10" r="1.3"/>
<circle cx="158.60" cy="163.90" r="1.3"/>
<circle cx="165.30" cy="163.90" r="1.3"/>
<circle cx="169.10" cy="164.30" r="1.3"/>
<circle cx="154.40" cy="168.00" r="1.3"/>
<circle cx="158.60" cy="168.00" r="1.3"/>
<circle cx="162.00" cy="168.00" r="1.3"/>
<circle cx="165.70" cy="168.00" r="1.3"/>
<circle cx="169.40" cy="168.00" r="1.3"/>
<circle cx="154.40" cy="170.00" r="1.3"/>
<circle cx="158.20" cy="170.00" r="1.3"/>
<circle cx="162.00" cy="170.00" r="1.3"/>
<circle cx="165.70" cy="170.00" r="1.3"/>
<circle cx="154.40" cy="172.10" r="1.3"/>
<circle cx="158.60" cy="172.10" r="1.3"/>
<circle cx="165.70" cy="172.10" r="1.3"/>
<circle cx="169.40" cy="172.10" r="1.3"/>
<circle cx="158.20" cy="174.80" r="1.3"/>
<circle cx="162.00" cy="174.80" r="1.3"/>
<circle cx="154.40" cy="176.50" r="1.3"/>
<circle cx="158.60" cy="176.50" r="1.3"/>
<circle cx="162.00" cy="176.50" r="1.3"/>
<circle cx="169.40" cy="176.50" r="1.3"/>
<circle cx="161.50" cy="179.00" r="1.3"/>
<circle cx="165.30" cy="179.00" r="1.3"/>
<circle cx="195.30" cy="66.20" r="1.3"/>
<circle cx="195.30" cy="80.10" r="1.3"/>
<circle cx="195.30" cy="114.80" r="1.3"/>
<circle cx="195.30" cy="128.10" r="1.3"/>
<circle cx="199.40" cy="132.10" r="1.3"/>
<circle cx="195.50" cy="135.50" r="1.3"/>
<circle cx="195.50" cy="139.80" r="1.3"/>
<circle cx="191.50" cy="144.40" r="1.3"/>
<circle cx="195.50" cy="146.20" r="1.3"/>
<circle cx="199.20" cy="145.30" r="1.3"/>
<circle cx="202.60" cy="144.40" r="1.3"/>
<circle cx="199.20" cy="150.50" r="1.3"/>
<circle cx="191.50" cy="152.10" r="1.3"/>
<circle cx="195.50" cy="153.30" r="1.3"/>
<circle cx="191.50" cy="154.40" r="1.3"/>
<circle cx="199.20" cy="155.80" r="1.3"/>
<circle cx="188.00" cy="160.40" r="1.3"/>
<circle cx="191.50" cy="160.40" r="1.3"/>
<circle cx="195.50" cy="159.00" r="1.3"/>
<circle cx="199.20" cy="159.00" r="1.3"/>
<circle cx="202.60" cy="159.30" r="1.3"/>
<circle cx="191.50" cy="163.80" r="1.3"/>
<circle cx="195.50" cy="162.90" r="1.3"/>
<circle cx="199.20" cy="162.90" r="1.3"/>
<circle cx="195.50" cy="166.10" r="1.3"/>
<circle cx="199.20" cy="166.10" r="1.3"/>
<circle cx="188.00" cy="169.30" r="1.3"/>
<circle cx="191.50" cy="168.90" r="1.3"/>
<circle cx="191.50" cy="171.20" r="1.3"/>
<circle cx="195.50" cy="171.80" r="1.3"/>
<circle cx="199.20" cy="171.20" r="1.3"/>
<circle cx="202.60" cy="169.30" r="1.3"/>
<circle cx="199.20" cy="174.20" r="1.3"/>
<circle cx="195.50" cy="177.40" r="1.3"/>
<circle cx="228.80" cy="96.20" r="1.3"/>
<circle cx="225.40" cy="127.70" r="1.3"/>
<circle cx="228.80" cy="126.30" r="1.3"/>
<circle cx="228.80" cy="131.00" r="1.3"/>
<circle cx="225.40" cy="137.20" r="1.3"/>
<circle cx="228.80" cy="139.00" r="1.3"/>
<circle cx="232.40" cy="137.90" r="1.3"/>
<circle cx="225.40" cy="142.20" r="1.3"/>
<circle cx="228.80" cy="143.20" r="1.3"/>
<circle cx="232.40" cy="142.20" r="1.3"/>
<circle cx="228.80" cy="146.60" r="1.3"/>
<circle cx="232.40" cy="146.60" r="1.3"/>
<circle cx="221.70" cy="152.60" r="1.3"/>
<circle cx="225.40" cy="151.20" r="1.3"/>
<circle cx="228.20" cy="154.90" r="1.3"/>
<circle cx="230.60" cy="151.60" r="1.3"/>
<circle cx="232.70" cy="153.50" r="1.3"/>
<circle cx="235.80" cy="152.10" r="1.3"/>
<circle cx="225.40" cy="154.00" r="1.3"/>
<circle cx="228.80" cy="159.40" r="1.3"/>
<circle cx="225.40" cy="165.70" r="1.3"/>
<circle cx="228.80" cy="164.70" r="1.3"/>
<circle cx="232.40" cy="166.10" r="1.3"/>
<circle cx="228.80" cy="169.50" r="1.3"/>
<circle cx="328.50" cy="63.10" r="1.3"/>
<circle cx="328.60" cy="70.00" r="1.3"/>
<circle cx="325.00" cy="74.20" r="1.3"/>
<circle cx="328.60" cy="77.80" r="1.3"/>
<circle cx="328.60" cy="82.60" r="1.3"/>
<circle cx="328.80" cy="102.90" r="1.3"/>
<circle cx="324.70" cy="106.00" r="1.3"/>
<circle cx="332.40" cy="107.10" r="1.3"/>
<circle cx="328.40" cy="109.50" r="1.3"/>
<circle cx="332.40" cy="112.00" r="1.3"/>
<circle cx="328.80" cy="113.10" r="1.3"/>
<circle cx="325.00" cy="113.70" r="1.3"/>
<circle cx="321.60" cy="114.80" r="1.3"/>
<circle cx="332.40" cy="115.20" r="1.3"/>
<circle cx="336.00" cy="115.40" r="1.3"/>
<circle cx="328.70" cy="118.10" r="1.3"/>
<circle cx="324.50" cy="124.60" r="1.3"/>
<circle cx="328.60" cy="125.50" r="1.3"/>
<circle cx="332.10" cy="123.40" r="1.3"/>
<circle cx="324.50" cy="131.60" r="1.3"/>
<circle cx="328.60" cy="130.00" r="1.3"/>
<circle cx="332.10" cy="130.50" r="1.3"/>
<circle cx="328.60" cy="134.10" r="1.3"/>
<circle cx="332.10" cy="137.00" r="1.3"/>
<circle cx="328.60" cy="138.30" r="1.3"/>
<circle cx="328.60" cy="141.40" r="1.3"/>
<circle cx="324.50" cy="143.60" r="1.3"/>
<circle cx="328.60" cy="146.30" r="1.3"/>
<circle cx="332.10" cy="146.30" r="1.3"/>
<circle cx="324.50" cy="153.10" r="1.3"/>
<circle cx="328.60" cy="156.80" r="1.3"/>
<circle cx="328.60" cy="161.50" r="1.3"/>
<circle cx="365.80" cy="161.90" r="1.3"/>
<circle cx="362.30" cy="163.50" r="1.3"/>
<circle cx="366.20" cy="164.20" r="1.3"/>
<circle cx="358.50" cy="167.30" r="1.3"/>
<circle cx="362.30" cy="167.30" r="1.3"/>
<circle cx="365.80" cy="166.20" r="1.3"/>
<circle cx="358.50" cy="170.40" r="1.3"/>
<circle cx="362.30" cy="170.40" r="1.3"/>
<circle cx="365.80" cy="170.40" r="1.3"/>
<circle cx="358.50" cy="174.20" r="1.3"/>
<circle cx="362.50" cy="175.40" r="1.3"/>
<circle cx="354.60" cy="177.30" r="1.3"/>
<circle cx="355.40" cy="178.80" r="1.3"/>
<circle cx="358.70" cy="179.80" r="1.3"/>
<circle cx="362.30" cy="179.60" r="1.3"/>
<circle cx="363.50" cy="177.30" r="1.3"/>
<circle cx="365.80" cy="180.00" r="1.3"/>
<circle cx="369.60" cy="179.40" r="1.3"/>
<circle cx="396.00" cy="145.80" r="1.3"/>
<circle cx="395.50" cy="159.00" r="1.3"/>
<circle cx="399.40" cy="157.50" r="1.3"/>
<circle cx="388.20" cy="163.90" r="1.3"/>
<circle cx="392.10" cy="167.30" r="1.3"/>
<circle cx="395.70" cy="167.50" r="1.3"/>
<circle cx="399.40" cy="165.50" r="1.3"/>
<circle cx="399.40" cy="168.30" r="1.3"/>
<circle cx="388.20" cy="172.70" r="1.3"/>
<circle cx="395.70" cy="172.00" r="1.3"/>
<circle cx="392.40" cy="174.30" r="1.3"/>
<circle cx="399.40" cy="174.30" r="1.3"/>
<circle cx="392.40" cy="177.00" r="1.3"/>
<circle cx="396.00" cy="176.50" r="1.3"/>
<circle cx="403.50" cy="176.50" r="1.3"/>
<circle cx="395.50" cy="180.00" r="1.3"/>
<circle cx="398.00" cy="180.00" r="1.3"/>
<circle cx="400.00" cy="180.00" r="1.3"/>
<circle cx="429.60" cy="141.00" r="1.3"/>
<circle cx="429.60" cy="153.70" r="1.3"/>
<circle cx="422.20" cy="163.30" r="1.3"/>
<circle cx="426.10" cy="163.80" r="1.3"/>
<circle cx="433.20" cy="163.50" r="1.3"/>
<circle cx="429.40" cy="166.80" r="1.3"/>
<circle cx="433.20" cy="167.40" r="1.3"/>
<circle cx="425.80" cy="172.00" r="1.3"/>
<circle cx="429.60" cy="170.90" r="1.3"/>
<circle cx="422.20" cy="173.30" r="1.3"/>
<circle cx="429.40" cy="174.20" r="1.3"/>
<circle cx="433.20" cy="174.20" r="1.3"/>
<circle cx="437.00" cy="172.90" r="1.3"/>
<circle cx="425.80" cy="176.10" r="1.3"/>
<circle cx="437.00" cy="176.30" r="1.3"/>
<circle cx="429.60" cy="179.40" r="1.3"/>
<circle cx="433.20" cy="179.10" r="1.3"/>
<circle cx="463.30" cy="155.10" r="1.3"/>
<circle cx="466.90" cy="154.80" r="1.3"/>
<circle cx="459.60" cy="159.00" r="1.3"/>
<circle cx="463.30" cy="160.50" r="1.3"/>
<circle cx="455.70" cy="162.20" r="1.3"/>
<circle cx="470.80" cy="163.20" r="1.3"/>
<circle cx="459.60" cy="165.20" r="1.3"/>
<circle cx="463.50" cy="165.40" r="1.3"/>
<circle cx="466.90" cy="164.90" r="1.3"/>
<circle cx="455.70" cy="168.80" r="1.3"/>
<circle cx="459.60" cy="168.30" r="1.3"/>
<circle cx="463.50" cy="168.30" r="1.3"/>
<circle cx="466.90" cy="167.80" r="1.3"/>
<circle cx="470.80" cy="168.50" r="1.3"/>
<circle cx="463.50" cy="170.40" r="1.3"/>
<circle cx="466.90" cy="172.20" r="1.3"/>
<circle cx="459.60" cy="171.00" r="1.3"/>
<circle cx="463.30" cy="174.30" r="1.3"/>
<circle cx="493.40" cy="128.60" r="1.3"/>
<circle cx="496.90" cy="132.10" r="1.3"/>
<circle cx="500.60" cy="135.00" r="1.3"/>
<circle cx="496.90" cy="136.90" r="1.3"/>
<circle cx="493.40" cy="152.10" r="1.3"/>
<circle cx="497.30" cy="153.30" r="1.3"/>
<circle cx="496.90" cy="160.70" r="1.3"/>
<circle cx="500.60" cy="164.00" r="1.3"/>
<circle cx="493.40" cy="163.50" r="1.3"/>
<circle cx="493.40" cy="166.90" r="1.3"/>
<circle cx="496.90" cy="166.90" r="1.3"/>
<circle cx="489.70" cy="171.70" r="1.3"/>
<circle cx="493.40" cy="172.10" r="1.3"/>
<circle cx="496.90" cy="174.00" r="1.3"/>
<circle cx="499.10" cy="173.10" r="1.3"/>
<circle cx="501.10" cy="172.60" r="1.3"/>
<circle cx="504.40" cy="171.70" r="1.3"/>
<circle cx="58.90" cy="347.50" r="1.3"/>
<circle cx="62.60" cy="348.40" r="1.3"/>
<circle cx="58.90" cy="355.00" r="1.3"/>
<circle cx="62.60" cy="353.30" r="1.3"/>
<circle cx="62.60" cy="358.00" r="1.3"/>
<circle cx="62.60" cy="363.10" r="1.3"/>
<circle cx="66.40" cy="362.90" r="1.3"/>
<circle cx="58.90" cy="368.30" r="1.3"/>
<circle cx="62.60" cy="368.60" r="1.3"/>
<circle cx="66.40" cy="367.20" r="1.3"/>
<circle cx="62.60" cy="372.90" r="1.3"/>
<circle cx="66.40" cy="378.40" r="1.3"/>
<circle cx="55.50" cy="381.10" r="1.3"/>
<circle cx="58.90" cy="379.70" r="1.3"/>
<circle cx="62.60" cy="380.80" r="1.3"/>
<circle cx="70.20" cy="381.10" r="1.3"/>
<circle cx="55.50" cy="384.90" r="1.3"/>
<circle cx="58.90" cy="384.00" r="1.3"/>
<circle cx="62.60" cy="384.20" r="1.3"/>
<circle cx="66.40" cy="383.50" r="1.3"/>
<circle cx="70.20" cy="385.60" r="1.3"/>
<circle cx="58.90" cy="386.90" r="1.3"/>
<circle cx="62.60" cy="387.60" r="1.3"/>
<circle cx="66.40" cy="386.90" r="1.3"/>
<circle cx="55.50" cy="390.30" r="1.3"/>
<circle cx="58.90" cy="391.40" r="1.3"/>
<circle cx="62.60" cy="390.60" r="1.3"/>
<circle cx="66.40" cy="392.00" r="1.3"/>
<circle cx="70.20" cy="391.00" r="1.3"/>
<circle cx="62.60" cy="393.70" r="1.3"/>
<circle cx="97.40" cy="327.00" r="1.3"/>
<circle cx="97.40" cy="366.60" r="1.3"/>
<circle cx="97.40" cy="372.40" r="1.3"/>
<circle cx="97.40" cy="377.00" r="1.3"/>
<circle cx="101.30" cy="376.30" r="1.3"/>
<circle cx="93.40" cy="383.00" r="1.3"/>
<circle cx="97.10" cy="383.20" r="1.3"/>
<circle cx="93.40" cy="387.70" r="1.3"/>
<circle cx="97.40" cy="388.60" r="1.3"/>
<circle cx="101.20" cy="388.10" r="1.3"/>
<circle cx="93.70" cy="392.00" r="1.3"/>
<circle cx="97.40" cy="391.80" r="1.3"/>
<circle cx="100.80" cy="391.70" r="1.3"/>
<circle cx="131.70" cy="279.10" r="1.3"/>
<circle cx="131.70" cy="290.50" r="1.3"/>
<circle cx="131.70" cy="319.90" r="1.3"/>
<circle cx="131.70" cy="324.10" r="1.3"/>
<circle cx="135.30" cy="323.50" r="1.3"/>
<circle cx="128.40" cy="350.20" r="1.3"/>
<circle cx="131.60" cy="353.40" r="1.3"/>
<circle cx="135.40" cy="355.30" r="1.3"/>
<circle cx="131.60" cy="358.40" r="1.3"/>
<circle cx="131.60" cy="373.00" r="1.3"/>
<circle cx="128.40" cy="375.70" r="1.3"/>
<circle cx="131.60" cy="377.50" r="1.3"/>
<circle cx="135.40" cy="377.10" r="1.3"/>
<circle cx="128.40" cy="379.80" r="1.3"/>
<circle cx="131.60" cy="379.50" r="1.3"/>
<circle cx="131.60" cy="381.60" r="1.3"/>
<circle cx="124.50" cy="383.90" r="1.3"/>
<circle cx="128.40" cy="385.00" r="1.3"/>
<circle cx="131.60" cy="385.00" r="1.3"/>
<circle cx="135.40" cy="385.00" r="1.3"/>
<circle cx="139.30" cy="385.00" r="1.3"/>
<circle cx="126.50" cy="387.80" r="1.3"/>
<circle cx="133.50" cy="387.80" r="1.3"/>
<circle cx="124.50" cy="390.10" r="1.3"/>
<circle cx="128.40" cy="390.10" r="1.3"/>
<circle cx="131.60" cy="390.10" r="1.3"/>
<circle cx="135.40" cy="389.70" r="1.3"/>
<circle cx="139.30" cy="390.40" r="1.3"/>
<circle cx="130.00" cy="392.80" r="1.3"/>
<circle cx="137.00" cy="392.80" r="1.3"/>
<circle cx="124.50" cy="395.60" r="1.3"/>
<circle cx="128.40" cy="395.60" r="1.3"/>
<circle cx="131.60" cy="395.00" r="1.3"/>
<circle cx="135.40" cy="395.60" r="1.3"/>
<circle cx="139.30" cy="395.20" r="1.3"/>
<circle cx="162.90" cy="289.10" r="1.3"/>
<circle cx="166.10" cy="287.20" r="1.3"/>
<circle cx="170.10" cy="285.40" r="1.3"/>
<circle cx="170.10" cy="288.50" r="1.3"/>
<circle cx="166.10" cy="290.30" r="1.3"/>
<circle cx="170.10" cy="324.10" r="1.3"/>
<circle cx="166.10" cy="326.60" r="1.3"/>
<circle cx="162.90" cy="328.40" r="1.3"/>
<circle cx="166.10" cy="332.10" r="1.3"/>
<circle cx="162.60" cy="346.00" r="1.3"/>
<circle cx="166.30" cy="347.50" r="1.3"/>
<circle cx="170.10" cy="347.50" r="1.3"/>
<circle cx="162.30" cy="358.00" r="1.3"/>
<circle cx="166.40" cy="359.10" r="1.3"/>
<circle cx="162.30" cy="360.40" r="1.3"/>
<circle cx="166.40" cy="364.30" r="1.3"/>
<circle cx="170.10" cy="363.40" r="1.3"/>
<circle cx="162.70" cy="370.50" r="1.3"/>
<circle cx="166.40" cy="371.30" r="1.3"/>
<circle cx="166.40" cy="377.10" r="1.3"/>
<circle cx="166.40" cy="382.90" r="1.3"/>
<circle cx="162.70" cy="386.30" r="1.3"/>
<circle cx="170.50" cy="386.60" r="1.3"/>
<circle cx="159.20" cy="389.70" r="1.3"/>
<circle cx="162.70" cy="389.30" r="1.3"/>
<circle cx="166.40" cy="389.00" r="1.3"/>
<circle cx="170.10" cy="389.00" r="1.3"/>
<circle cx="173.60" cy="390.70" r="1.3"/>
<circle cx="159.20" cy="392.00" r="1.3"/>
<circle cx="162.70" cy="392.00" r="1.3"/>
<circle cx="166.40" cy="392.00" r="1.3"/>
<circle cx="170.10" cy="392.00" r="1.3"/>
<circle cx="173.60" cy="392.00" r="1.3"/>
<circle cx="163.00" cy="395.90" r="1.3"/>
<circle cx="166.40" cy="396.50" r="1.3"/>
<circle cx="170.10" cy="395.90" r="1.3"/>
<circle cx="193.30" cy="287.20" r="1.3"/>
<circle cx="196.90" cy="288.10" r="1.3"/>
<circle cx="200.50" cy="289.10" r="1.3"/>
<circle cx="204.70" cy="289.60" r="1.3"/>
<circle cx="208.90" cy="288.50" r="1.3"/>
<circle cx="197.40" cy="322.60" r="1.3"/>
<circle cx="201.10" cy="323.00" r="1.3"/>
<circle cx="201.10" cy="327.70" r="1.3"/>
<circle cx="201.10" cy="332.10" r="1.3"/>
<circle cx="201.10" cy="338.60" r="1.3"/>
<circle cx="201.30" cy="342.20" r="1.3"/>
<circle cx="201.30" cy="356.10" r="1.3"/>
<circle cx="205.20" cy="353.90" r="1.3"/>
<circle cx="197.70" cy="365.20" r="1.3"/>
<circle cx="201.30" cy="365.60" r="1.3"/>
<circle cx="197.70" cy="369.30" r="1.3"/>
<circle cx="201.30" cy="369.30" r="1.3"/>
<circle cx="205.20" cy="369.30" r="1.3"/>
<circle cx="201.30" cy="372.40" r="1.3"/>
<circle cx="205.20" cy="374.10" r="1.3"/>
<circle cx="197.70" cy="376.10" r="1.3"/>
<circle cx="201.30" cy="376.10" r="1.3"/>
<circle cx="194.00" cy="380.60" r="1.3"/>
<circle cx="197.70" cy="382.20" r="1.3"/>
<circle cx="201.30" cy="382.20" r="1.3"/>
<circle cx="205.20" cy="380.60" r="1.3"/>
<circle cx="208.60" cy="381.10" r="1.3"/>
<circle cx="204.50" cy="384.30" r="1.3"/>
<circle cx="197.70" cy="387.00" r="1.3"/>
<circle cx="201.30" cy="387.70" r="1.3"/>
<circle cx="205.20" cy="391.50" r="1.3"/>
<circle cx="201.30" cy="394.20" r="1.3"/>
<circle cx="235.90" cy="281.30" r="1.3"/>
<circle cx="228.10" cy="289.60" r="1.3"/>
<circle cx="231.70" cy="289.60" r="1.3"/>
<circle cx="235.90" cy="290.30" r="1.3"/>
<circle cx="239.50" cy="289.60" r="1.3"/>
<circle cx="243.10" cy="289.60" r="1.3"/>
<circle cx="235.90" cy="304.10" r="1.3"/>
<circle cx="235.90" cy="334.40" r="1.3"/>
<circle cx="235.70" cy="351.60" r="1.3"/>
<circle cx="235.70" cy="356.60" r="1.3"/>
<circle cx="232.00" cy="369.30" r="1.3"/>
<circle cx="235.70" cy="368.60" r="1.3"/>
<circle cx="235.70" cy="372.40" r="1.3"/>
<circle cx="239.50" cy="372.70" r="1.3"/>
<circle cx="232.40" cy="375.40" r="1.3"/>
<circle cx="235.70" cy="376.50" r="1.3"/>
<circle cx="239.50" cy="374.30" r="1.3"/>
<circle cx="232.40" cy="380.20" r="1.3"/>
<circle cx="235.70" cy="382.50" r="1.3"/>
<circle cx="239.50" cy="380.60" r="1.3"/>
<circle cx="243.30" cy="379.50" r="1.3"/>
<circle cx="232.40" cy="391.50" r="1.3"/>
<circle cx="235.70" cy="391.50" r="1.3"/>
<circle cx="239.50" cy="388.80" r="1.3"/>
<circle cx="235.70" cy="396.10" r="1.3"/>
<circle cx="324.60" cy="347.50" r="1.3"/>
<circle cx="328.30" cy="348.40" r="1.3"/>
<circle cx="324.60" cy="355.00" r="1.3"/>
<circle cx="328.30" cy="353.30" r="1.3"/>
<circle cx="328.30" cy="358.00" r="1.3"/>
<circle cx="328.30" cy="363.10" r="1.3"/>
<circle cx="332.10" cy="362.90" r="1.3"/>
<circle cx="324.60" cy="368.30" r="1.3"/>
<circle cx="328.30" cy="368.60" r="1.3"/>
<circle cx="332.10" cy="367.20" r="1.3"/>
<circle cx="328.30" cy="372.90" r="1.3"/>
<circle cx="332.10" cy="378.40" r="1.3"/>
<circle cx="321.20" cy="381.10" r="1.3"/>
<circle cx="324.60" cy="379.70" r="1.3"/>
<circle cx="328.30" cy="380.80" r="1.3"/>
<circle cx="335.90" cy="381.10" r="1.3"/>
<circle cx="321.20" cy="384.90" r="1.3"/>
<circle cx="324.60" cy="384.00" r="1.3"/>
<circle cx="328.30" cy="384.20" r="1.3"/>
<circle cx="332.10" cy="383.50" r="1.3"/>
<circle cx="335.90" cy="385.60" r="1.3"/>
<circle cx="324.60" cy="386.90" r="1.3"/>
<circle cx="328.30" cy="387.60" r="1.3"/>
<circle cx="332.10" cy="386.90" r="1.3"/>
<circle cx="321.20" cy="390.30" r="1.3"/>
<circle cx="324.60" cy="391.40" r="1.3"/>
<circle cx="328.30" cy="390.60" r="1.3"/>
<circle cx="332.10" cy="392.00" r="1.3"/>
<circle cx="335.90" cy="391.00" r="1.3"/>
<circle cx="328.30" cy="393.70" r="1.3"/>
<circle cx="361.80" cy="374.20" r="1.3"/>
<circle cx="361.80" cy="389.20" r="1.3"/>
<circle cx="394.80" cy="360.20" r="1.3"/>
<circle cx="394.80" cy="382.30" r="1.3"/>
<circle cx="391.20" cy="392.50" r="1.3"/>
<circle cx="394.80" cy="392.50" r="1.3"/>
<circle cx="398.70" cy="391.00" r="1.3"/>
<circle cx="428.50" cy="346.00" r="1.3"/>
<circle cx="428.50" cy="376.50" r="1.3"/>
<circle cx="424.60" cy="387.30" r="1.3"/>
<circle cx="428.50" cy="390.20" r="1.3"/>
<circle cx="427.30" cy="394.10" r="1.3"/>
<circle cx="432.90" cy="393.50" r="1.3"/>
<circle cx="461.70" cy="339.20" r="1.3"/>
<circle cx="461.70" cy="386.20" r="1.3"/>
<circle cx="452.80" cy="395.60" r="1.3"/>
<circle cx="456.80" cy="394.00" r="1.3"/>
<circle cx="461.10" cy="395.30" r="1.3"/>
<circle cx="466.30" cy="394.20" r="1.3"/>
<circle cx="494.90" cy="344.30" r="1.3"/>
<circle cx="494.90" cy="376.50" r="1.3"/>
<circle cx="494.90" cy="393.50" r="1.3"/>
</g>
<g fill="#fff" stroke="#151515" stroke-width="1.05">
<circle cx="352.50" cy="396.70" r="1.3"/>
<circle cx="354.30" cy="396.70" r="1.3"/>
<circle cx="356.10" cy="396.70" r="1.3"/>
<circle cx="357.90" cy="396.70" r="1.3"/>
<circle cx="359.70" cy="396.70" r="1.3"/>
<circle cx="361.50" cy="396.70" r="1.3"/>
<circle cx="363.30" cy="396.70" r="1.3"/>
<circle cx="365.10" cy="396.70" r="1.3"/>
<circle cx="366.90" cy="396.70" r="1.3"/>
<circle cx="368.70" cy="396.70" r="1.3"/>
<circle cx="370.50" cy="396.70" r="1.3"/>
<circle cx="385.70" cy="396.70" r="1.3"/>
<circle cx="387.50" cy="396.70" r="1.3"/>
<circle cx="389.30" cy="396.70" r="1.3"/>
<circle cx="391.10" cy="396.70" r="1.3"/>
<circle cx="392.90" cy="396.70" r="1.3"/>
<circle cx="394.70" cy="396.70" r="1.3"/>
<circle cx="396.50" cy="396.70" r="1.3"/>
<circle cx="398.30" cy="396.70" r="1.3"/>
<circle cx="400.10" cy="396.70" r="1.3"/>
<circle cx="401.90" cy="396.70" r="1.3"/>
<circle cx="403.70" cy="396.70" r="1.3"/>
<circle cx="419.30" cy="396.70" r="1.3"/>
<circle cx="421.10" cy="396.70" r="1.3"/>
<circle cx="422.90" cy="396.70" r="1.3"/>
<circle cx="424.70" cy="396.70" r="1.3"/>
<circle cx="426.50" cy="396.70" r="1.3"/>
<circle cx="428.30" cy="396.70" r="1.3"/>
<circle cx="430.10" cy="396.70" r="1.3"/>
<circle cx="431.90" cy="396.70" r="1.3"/>
<circle cx="433.70" cy="396.70" r="1.3"/>
<circle cx="435.50" cy="396.70" r="1.3"/>
<circle cx="437.30" cy="396.70" r="1.3"/>
<circle cx="452.70" cy="396.70" r="1.3"/>
<circle cx="454.50" cy="396.70" r="1.3"/>
<circle cx="456.30" cy="396.70" r="1.3"/>
<circle cx="458.10" cy="396.70" r="1.3"/>
<circle cx="459.90" cy="396.70" r="1.3"/>
<circle cx="461.70" cy="396.70" r="1.3"/>
<circle cx="463.50" cy="396.70" r="1.3"/>
<circle cx="465.30" cy="396.70" r="1.3"/>
<circle cx="467.10" cy="396.70" r="1.3"/>
<circle cx="468.90" cy="396.70" r="1.3"/>
<circle cx="470.70" cy="396.70" r="1.3"/>
<circle cx="485.60" cy="396.20" r="1.3"/>
<circle cx="487.40" cy="396.20" r="1.3"/>
<circle cx="489.20" cy="396.20" r="1.3"/>
<circle cx="491.00" cy="396.20" r="1.3"/>
<circle cx="492.80" cy="396.20" r="1.3"/>
<circle cx="494.60" cy="396.20" r="1.3"/>
<circle cx="496.40" cy="396.20" r="1.3"/>
<circle cx="498.20" cy="396.20" r="1.3"/>
<circle cx="500.00" cy="396.20" r="1.3"/>
<circle cx="501.80" cy="396.20" r="1.3"/>
<circle cx="503.60" cy="396.20" r="1.3"/>
<circle cx="88.50" cy="395.00" r="1.3"/>
<circle cx="91.10" cy="395.00" r="1.3"/>
<circle cx="93.70" cy="395.00" r="1.3"/>
<circle cx="96.30" cy="395.00" r="1.3"/>
<circle cx="98.90" cy="395.00" r="1.3"/>
<circle cx="101.50" cy="395.00" r="1.3"/>
<circle cx="104.10" cy="395.00" r="1.3"/>
<circle cx="106.70" cy="395.00" r="1.3"/>
<circle cx="87.20" cy="396.60" r="1.3"/>
<circle cx="89.80" cy="396.60" r="1.3"/>
<circle cx="92.40" cy="396.60" r="1.3"/>
<circle cx="95.00" cy="396.60" r="1.3"/>
<circle cx="97.60" cy="396.60" r="1.3"/>
<circle cx="100.20" cy="396.60" r="1.3"/>
<circle cx="102.80" cy="396.60" r="1.3"/>
<circle cx="105.40" cy="396.60" r="1.3"/>
<circle cx="108.00" cy="396.60" r="1.3"/>
</g>
</svg>
</body></html>
